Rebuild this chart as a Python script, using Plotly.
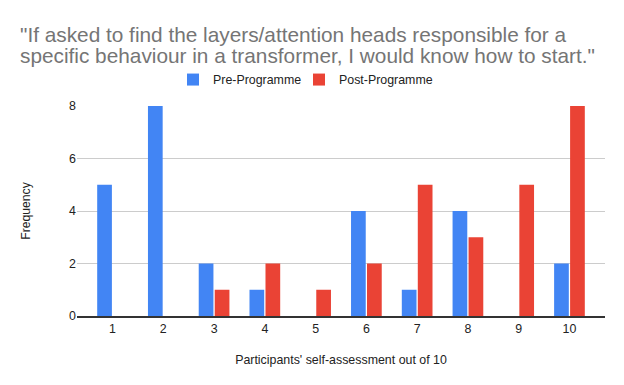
import plotly.graph_objects as go

categories = ["1", "2", "3", "4", "5", "6", "7", "8", "9", "10"]
pre_values = [5, 8, 2, 1, 0, 4, 1, 4, 0, 2]
post_values = [0, 0, 1, 2, 1, 2, 5, 3, 5, 8]
y_ticks = [0, 2, 4, 6, 8]
title_lines = [
    "\"If asked to find the layers/attention heads responsible for a",
    "specific behaviour in a transformer, I would know how to start.\"",
]

xnum = list(range(1, len(categories) + 1))

# the page body adds an 8px offset; layout numbers below are in window pixels
OFF = 8
W, H = 624 - OFF, 385 - OFF
PL, PR, PT, PB = 77, 605, 105.7, 315.7   # plot box in window pixels
L, R, T, B = PL - OFF, W - (PR - OFF), PT - OFF, H - (PB - OFF)
pw, ph = W - L - R, H - T - B

def px_x(x):
    return (x - OFF - L) / pw

def px_y(y):
    return (H - B - (y - OFF)) / ph

fig = go.Figure()
fig.add_trace(go.Bar(x=xnum, y=pre_values, name="Pre-Programme", marker_color="#4285F4",
                     marker_line_width=0, legend="legend", showlegend=True))
fig.add_trace(go.Bar(x=xnum, y=post_values, name="Post-Programme", marker_color="#EA4335",
                     marker_line_width=0, legend="legend2", showlegend=True))

annotations = []
for line, yc in zip(title_lines, [34.5, 55.5]):
    annotations.append(dict(
        text=line, xref="paper", yref="paper", x=px_x(18), y=px_y(yc),
        xanchor="left", yanchor="middle", showarrow=False,
        font=dict(size=20.8, color="#757575", family="Liberation Sans, Arial, sans-serif"),
    ))

legend_common = dict(orientation="h", xanchor="left", xref="container",
                     y=1 - (80 - OFF) / H, yanchor="middle", yref="container",
                     font=dict(size=12.4, color="#222222"), itemwidth=30, bgcolor="rgba(0,0,0,0)",
                     visible=True)

fig.update_layout(
    width=W, height=H,
    showlegend=True,
    paper_bgcolor="white", plot_bgcolor="white",
    margin=dict(l=L, r=R, t=T, b=B, pad=0, autoexpand=False),
    barmode="group", bargap=0.37, bargroupgap=0.08,
    font=dict(family="Liberation Sans, Arial, sans-serif", color="#222222", size=12.4),
    annotations=annotations,
    legend=dict(x=(173 - OFF) / W, **legend_common),
    legend2=dict(x=(299 - OFF) / W, **legend_common),
    xaxis=dict(
        tickmode="array", tickvals=xnum, ticktext=categories, range=[0.3, 10.7],
        showgrid=False, showline=True, linecolor="#333333", linewidth=2, ticks="",
        tickfont=dict(size=12.4, color="#222222"),
        title=dict(text="Participants' self-assessment out of 10", font=dict(size=12.4, color="#222222"), standoff=20),
        zeroline=False,
    ),
    yaxis=dict(
        range=[0, 8], tickvals=y_ticks, showgrid=True, gridcolor="#cccccc", gridwidth=1,
        zeroline=False, showline=False, ticks="",
        tickfont=dict(size=12.4, color="#222222"),
        title=dict(text="Frequency", font=dict(size=12.2, color="#222222"), standoff=35),
    ),
)

fig.write_html("out.html")
